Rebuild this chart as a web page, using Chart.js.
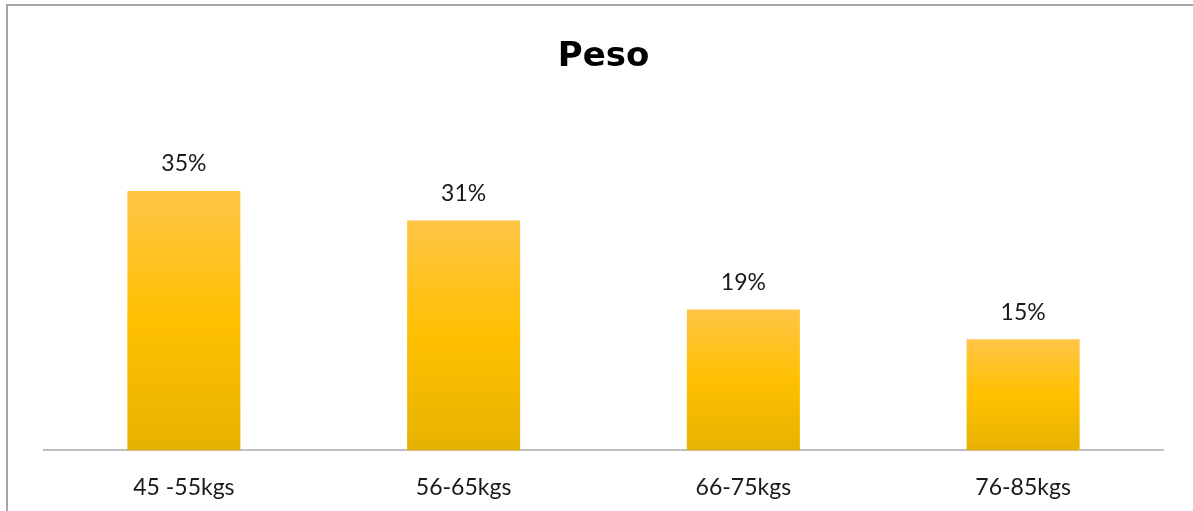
<!DOCTYPE html>
<html>
<head>
<meta charset="utf-8">
<script src="https://cdn.jsdelivr.net/npm/chart.js@4"></script>
<style>
  html, body { margin: 0; padding: 0; background: #fff; overflow: hidden; }
  #wrap { width: 1193px; height: 536px; position: relative; }
</style>
</head>
<body>
<div id="wrap"><canvas id="pesoChart"></canvas></div>
<script>
const categories = ['45 -55kgs', '56-65kgs', '66-75kgs', '76-85kgs'];
const percentValues = [35, 31, 19, 15];
const chartTitle = 'Peso';

const FONT = 'Lato, "Open Sans", sans-serif';

// gradient per barra (claro arriba, oscuro abajo)
function barGradient(context) {
    const chart = context.chart;
    const area = chart.chartArea;
    if (!area || context.parsed == null) return '#FFC000';
    const yScale = chart.scales.y;
    const top = yScale.getPixelForValue(context.parsed.y);
    const bottom = yScale.getPixelForValue(0);
    const g = chart.ctx.createLinearGradient(0, top, 0, bottom);
    g.addColorStop(0, '#FFC546');
    g.addColorStop(0.5, '#FFC000');
    g.addColorStop(1, '#E6B200');
    return g;
}

const frameBorder = {
    id: 'frameBorder',
    beforeDraw(chart) {
        const ctx = chart.ctx;
        ctx.save();
        ctx.strokeStyle = '#A6A6A6';
        ctx.lineWidth = 2;
        ctx.strokeRect(7, 5, 1400, 700);
        ctx.restore();
    }
};

const valueLabels = {
    id: 'valueLabels',
    afterDatasetsDraw(chart) {
        const ctx = chart.ctx;
        const meta = chart.getDatasetMeta(0);
        ctx.save();
        ctx.font = '23px ' + FONT;
        ctx.fillStyle = '#1a1a1a';
        ctx.textAlign = 'center';
        ctx.textBaseline = 'middle';
        meta.data.forEach((bar, i) => {
            ctx.fillText(percentValues[i] + '%', bar.x, bar.y - 27);
        });
        ctx.restore();
    }
};

new Chart(document.getElementById('pesoChart'), {
    type: 'bar',
    data: {
        labels: categories,
        datasets: [{
            data: percentValues,
            backgroundColor: barGradient,
            borderWidth: 0,
            categoryPercentage: 1,
            barPercentage: 0.404
        }]
    },
    options: {
        responsive: true,
        maintainAspectRatio: false,
        animation: false,
        layout: {
            padding: { left: 44, right: 30, top: 0, bottom: 12 }
        },
        scales: {
            x: {
                grid: { display: false, drawTicks: false },
                border: { display: true, color: '#BFBFBF', width: 2 },
                ticks: {
                    padding: 23,
                    color: '#1a1a1a',
                    font: { family: FONT, size: 23 }
                }
            },
            y: {
                display: false,
                min: 0,
                max: 40
            }
        },
        plugins: {
            legend: { display: false },
            tooltip: { enabled: false },
            title: {
                display: true,
                text: chartTitle,
                color: '#000',
                font: { family: '"DejaVu Sans", sans-serif', size: 34, weight: 'bold' },
                padding: { top: 37, bottom: 76 }
            }
        }
    },
    plugins: [frameBorder, valueLabels]
});
</script>
</body>
</html>
